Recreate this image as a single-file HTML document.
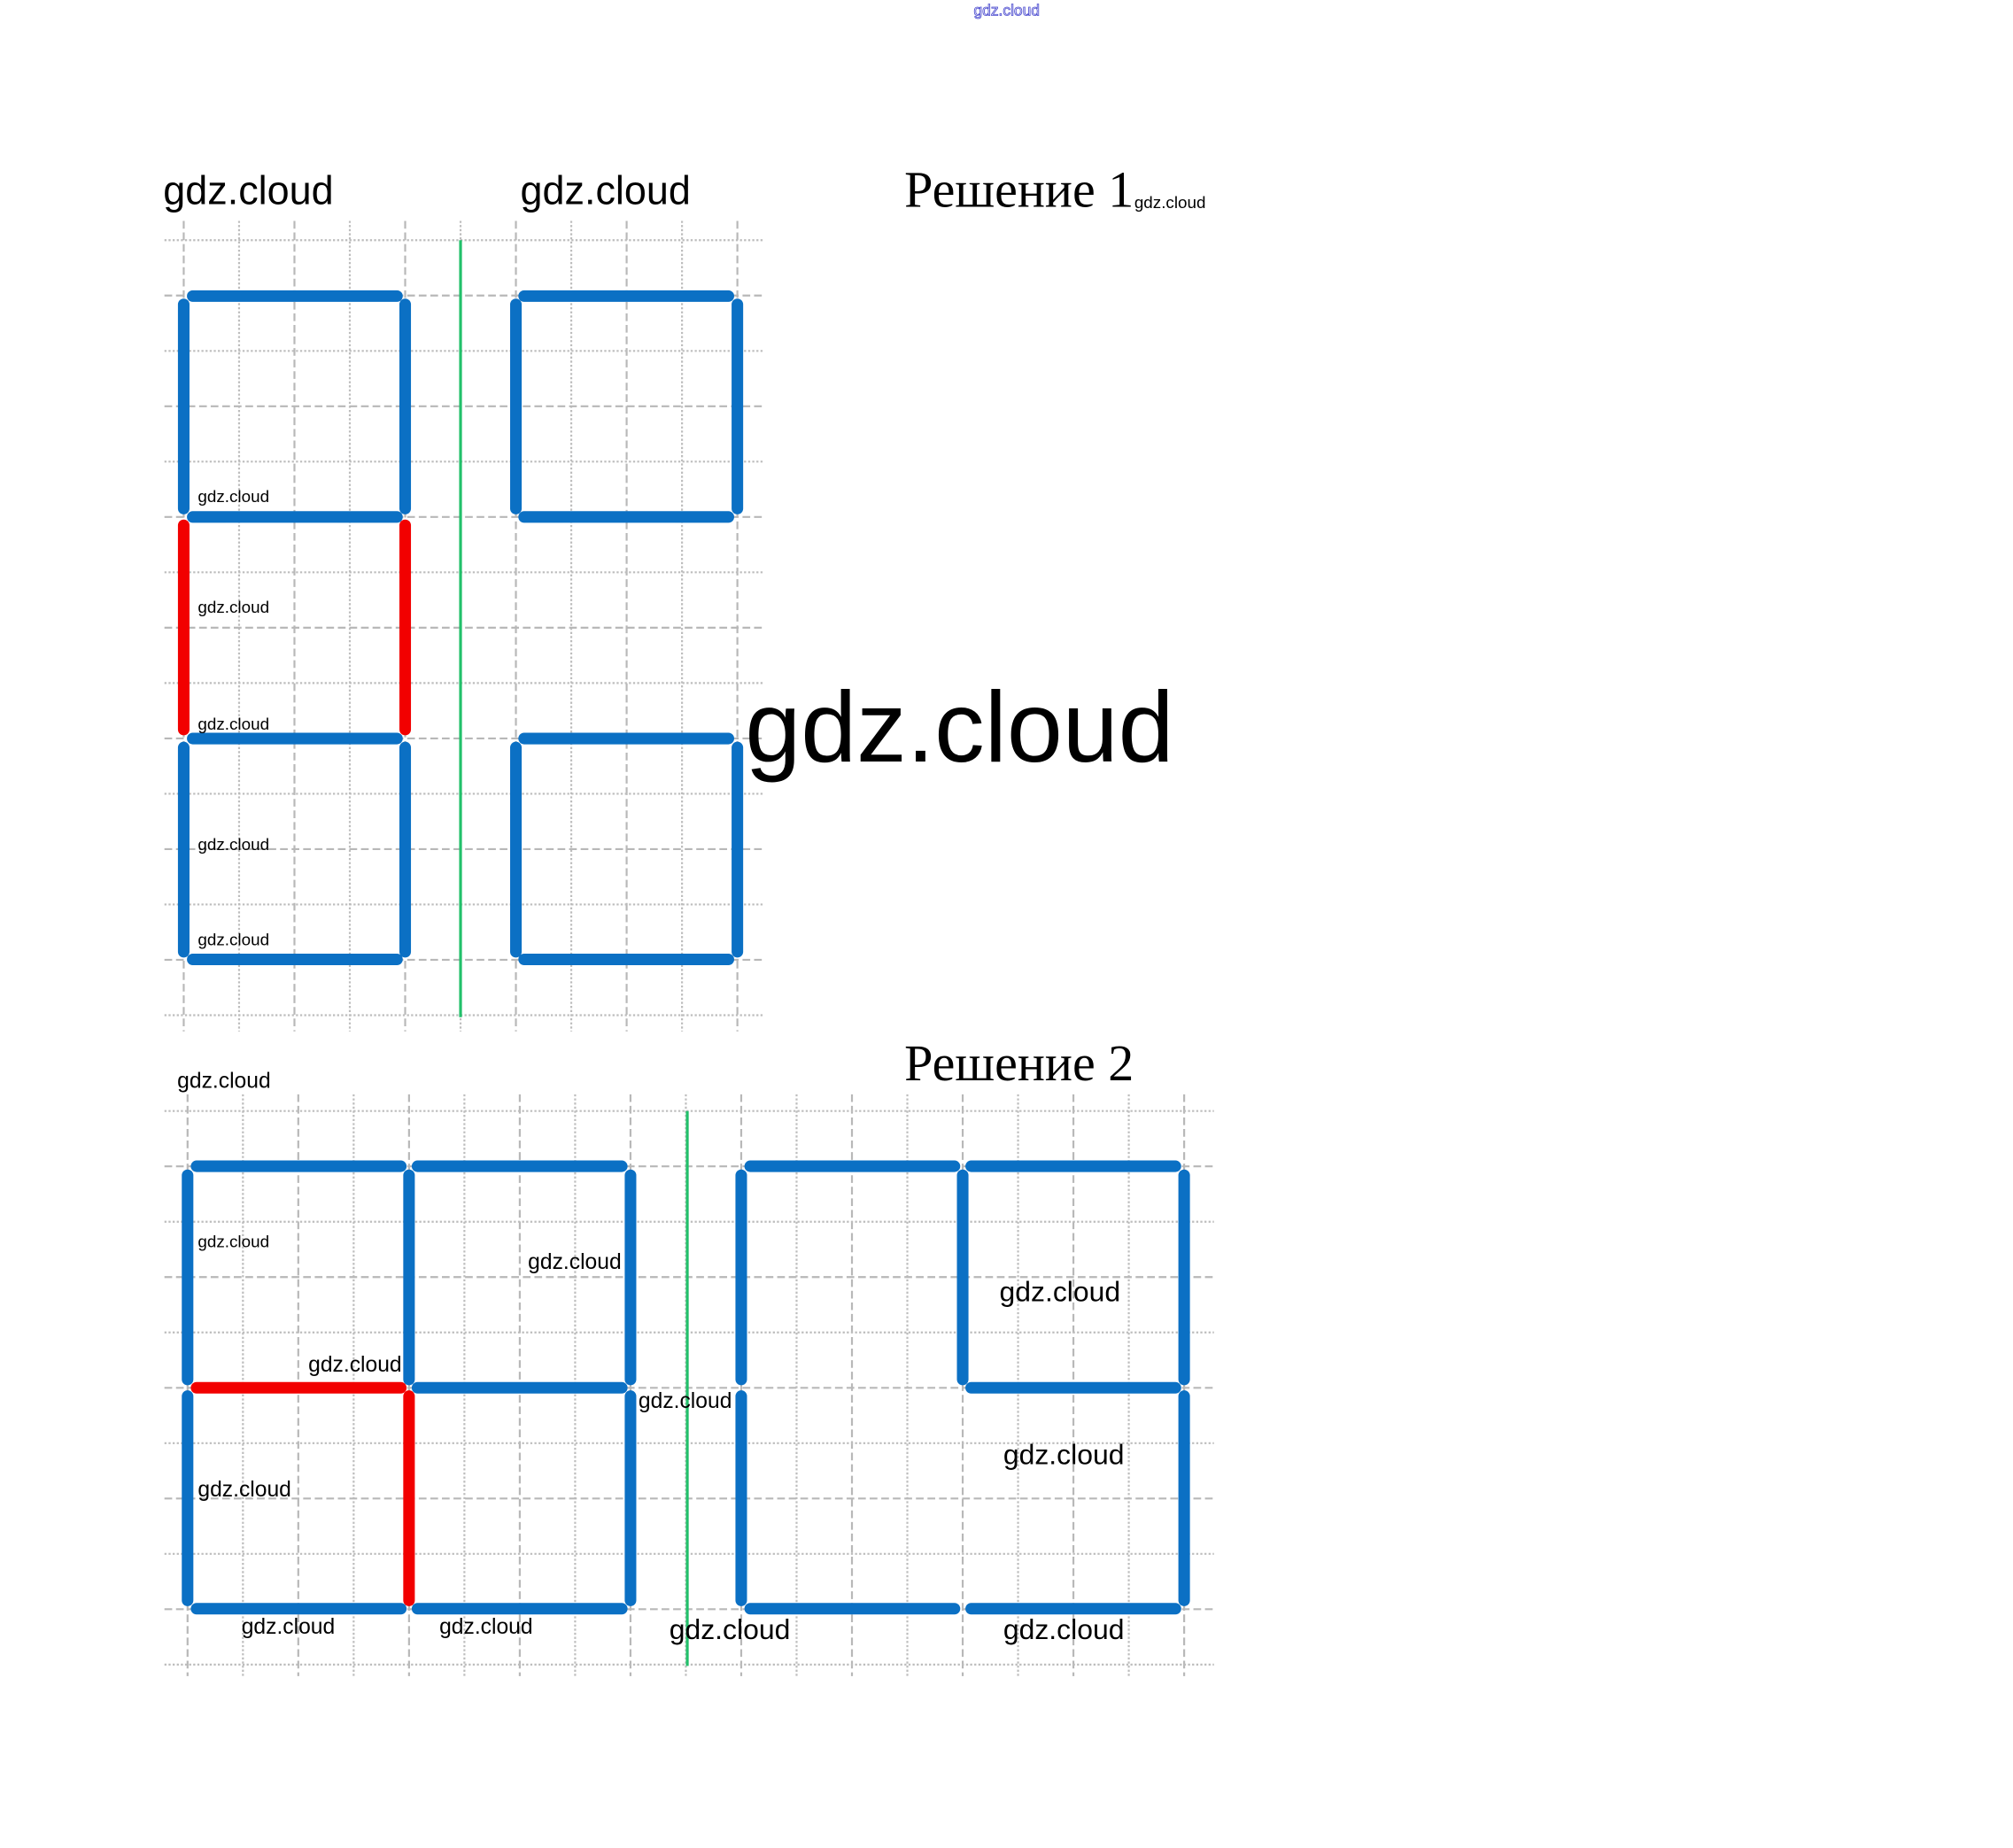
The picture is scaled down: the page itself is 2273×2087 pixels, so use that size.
<!DOCTYPE html>
<html><head><meta charset="utf-8"><style>
html,body{margin:0;padding:0;background:#fff}
svg{display:block}
.d{stroke:#b8b8b8;stroke-width:1.5;stroke-dasharray:6 3;fill:none}
.o{stroke:#bdbdbd;stroke-width:1.5;stroke-dasharray:1.6 1.6;fill:none}
.b{stroke:#0b70c4;stroke-width:9;stroke-linecap:round}
.r{stroke:#f20000;stroke-width:9;stroke-linecap:round}
text{font-family:"Liberation Sans",sans-serif;fill:#000}
</style></head><body>
<svg width="2273" height="2087" viewBox="0 0 1567 1438.8" xmlns="http://www.w3.org/2000/svg">
<g>
<line class="d" x1="143" y1="172" x2="143" y2="803"/>
<line class="o" x1="186.1" y1="172" x2="186.1" y2="803"/>
<line class="d" x1="229.2" y1="172" x2="229.2" y2="803"/>
<line class="o" x1="272.3" y1="172" x2="272.3" y2="803"/>
<line class="d" x1="315.4" y1="172" x2="315.4" y2="803"/>
<line class="o" x1="358.5" y1="172" x2="358.5" y2="803"/>
<line class="d" x1="401.6" y1="172" x2="401.6" y2="803"/>
<line class="o" x1="444.7" y1="172" x2="444.7" y2="803"/>
<line class="d" x1="487.8" y1="172" x2="487.8" y2="803"/>
<line class="o" x1="530.9" y1="172" x2="530.9" y2="803"/>
<line class="d" x1="574" y1="172" x2="574" y2="803"/>
<line class="o" x1="128" y1="187" x2="594" y2="187"/>
<line class="d" x1="128" y1="230.1" x2="594" y2="230.1"/>
<line class="o" x1="128" y1="273.2" x2="594" y2="273.2"/>
<line class="d" x1="128" y1="316.3" x2="594" y2="316.3"/>
<line class="o" x1="128" y1="359.4" x2="594" y2="359.4"/>
<line class="d" x1="128" y1="402.5" x2="594" y2="402.5"/>
<line class="o" x1="128" y1="445.6" x2="594" y2="445.6"/>
<line class="d" x1="128" y1="488.7" x2="594" y2="488.7"/>
<line class="o" x1="128" y1="531.8" x2="594" y2="531.8"/>
<line class="d" x1="128" y1="574.9" x2="594" y2="574.9"/>
<line class="o" x1="128" y1="618" x2="594" y2="618"/>
<line class="d" x1="128" y1="661.1" x2="594" y2="661.1"/>
<line class="o" x1="128" y1="704.2" x2="594" y2="704.2"/>
<line class="d" x1="128" y1="747.3" x2="594" y2="747.3"/>
<line class="o" x1="128" y1="790.4" x2="594" y2="790.4"/>
</g>
<line x1="358.5" y1="187" x2="358.5" y2="792" stroke="#22c06a" stroke-width="2.2"/>
<g>
<line class="b" x1="150" y1="230.5" x2="309" y2="230.5"/>
<line class="b" x1="143" y1="237" x2="143" y2="396"/>
<line class="b" x1="315.4" y1="237" x2="315.4" y2="396"/>
<line class="b" x1="150" y1="402.5" x2="309" y2="402.5"/>
<line class="r" x1="143" y1="409" x2="143" y2="568"/>
<line class="r" x1="315.4" y1="409" x2="315.4" y2="568"/>
<line class="b" x1="150" y1="575" x2="309" y2="575"/>
<line class="b" x1="143" y1="582" x2="143" y2="741"/>
<line class="b" x1="315.4" y1="582" x2="315.4" y2="741"/>
<line class="b" x1="150" y1="747" x2="309" y2="747"/>
<line class="b" x1="408" y1="230.5" x2="567" y2="230.5"/>
<line class="b" x1="401.6" y1="237" x2="401.6" y2="396"/>
<line class="b" x1="574" y1="237" x2="574" y2="396"/>
<line class="b" x1="408" y1="402.5" x2="567" y2="402.5"/>
<line class="b" x1="408" y1="575" x2="567" y2="575"/>
<line class="b" x1="401.6" y1="582" x2="401.6" y2="741"/>
<line class="b" x1="574" y1="582" x2="574" y2="741"/>
<line class="b" x1="408" y1="747" x2="567" y2="747"/>
</g>
<g>
<line class="d" x1="146" y1="852" x2="146" y2="1305"/>
<line class="o" x1="189.1" y1="852" x2="189.1" y2="1305"/>
<line class="d" x1="232.2" y1="852" x2="232.2" y2="1305"/>
<line class="o" x1="275.3" y1="852" x2="275.3" y2="1305"/>
<line class="d" x1="318.4" y1="852" x2="318.4" y2="1305"/>
<line class="o" x1="361.5" y1="852" x2="361.5" y2="1305"/>
<line class="d" x1="404.6" y1="852" x2="404.6" y2="1305"/>
<line class="o" x1="447.7" y1="852" x2="447.7" y2="1305"/>
<line class="d" x1="490.8" y1="852" x2="490.8" y2="1305"/>
<line class="o" x1="533.9" y1="852" x2="533.9" y2="1305"/>
<line class="d" x1="577" y1="852" x2="577" y2="1305"/>
<line class="o" x1="620.1" y1="852" x2="620.1" y2="1305"/>
<line class="d" x1="663.2" y1="852" x2="663.2" y2="1305"/>
<line class="o" x1="706.3" y1="852" x2="706.3" y2="1305"/>
<line class="d" x1="749.4" y1="852" x2="749.4" y2="1305"/>
<line class="o" x1="792.5" y1="852" x2="792.5" y2="1305"/>
<line class="d" x1="835.6" y1="852" x2="835.6" y2="1305"/>
<line class="o" x1="878.7" y1="852" x2="878.7" y2="1305"/>
<line class="d" x1="921.8" y1="852" x2="921.8" y2="1305"/>
<line class="o" x1="128" y1="865" x2="945" y2="865"/>
<line class="d" x1="128" y1="908.1" x2="945" y2="908.1"/>
<line class="o" x1="128" y1="951.2" x2="945" y2="951.2"/>
<line class="d" x1="128" y1="994.3" x2="945" y2="994.3"/>
<line class="o" x1="128" y1="1037.4" x2="945" y2="1037.4"/>
<line class="d" x1="128" y1="1080.5" x2="945" y2="1080.5"/>
<line class="o" x1="128" y1="1123.6" x2="945" y2="1123.6"/>
<line class="d" x1="128" y1="1166.7" x2="945" y2="1166.7"/>
<line class="o" x1="128" y1="1209.8" x2="945" y2="1209.8"/>
<line class="d" x1="128" y1="1252.9" x2="945" y2="1252.9"/>
<line class="o" x1="128" y1="1296" x2="945" y2="1296"/>
</g>
<line x1="535" y1="865" x2="535" y2="1297" stroke="#22c06a" stroke-width="2.2"/>
<g>
<line class="b" x1="153" y1="908" x2="312" y2="908"/>
<line class="b" x1="325" y1="908" x2="484" y2="908"/>
<line class="b" x1="146" y1="915" x2="146" y2="1074"/>
<line class="b" x1="318.4" y1="915" x2="318.4" y2="1074"/>
<line class="b" x1="490.8" y1="915" x2="490.8" y2="1074"/>
<line class="r" x1="153" y1="1080.5" x2="312" y2="1080.5"/>
<line class="b" x1="325" y1="1080.5" x2="484" y2="1080.5"/>
<line class="b" x1="146" y1="1087" x2="146" y2="1246"/>
<line class="r" x1="318.4" y1="1087" x2="318.4" y2="1246"/>
<line class="b" x1="490.8" y1="1087" x2="490.8" y2="1246"/>
<line class="b" x1="153" y1="1252.5" x2="312" y2="1252.5"/>
<line class="b" x1="325" y1="1252.5" x2="484" y2="1252.5"/>
<line class="b" x1="584" y1="908" x2="743" y2="908"/>
<line class="b" x1="756" y1="908" x2="915" y2="908"/>
<line class="b" x1="577" y1="915" x2="577" y2="1074"/>
<line class="b" x1="749.4" y1="915" x2="749.4" y2="1074"/>
<line class="b" x1="921.8" y1="915" x2="921.8" y2="1074"/>
<line class="b" x1="756" y1="1080.5" x2="915" y2="1080.5"/>
<line class="b" x1="577" y1="1087" x2="577" y2="1246"/>
<line class="b" x1="921.8" y1="1087" x2="921.8" y2="1246"/>
<line class="b" x1="584" y1="1252.5" x2="743" y2="1252.5"/>
<line class="b" x1="756" y1="1252.5" x2="915" y2="1252.5"/>
</g>
<text x="758" y="12" font-size="12" style="fill:#fff;stroke:#5050d0;stroke-width:0.6">gdz.cloud</text>
<text x="127" y="159" font-size="31">gdz.cloud</text>
<text x="405" y="159" font-size="31">gdz.cloud</text>
<text x="704" y="161" font-size="40" style="font-family:'Liberation Serif',serif">Решение 1</text>
<text x="883" y="162" font-size="13">gdz.cloud</text>
<text x="580" y="593" font-size="78">gdz.cloud</text>
<text x="154" y="391" font-size="13">gdz.cloud</text>
<text x="154" y="477" font-size="13">gdz.cloud</text>
<text x="154" y="568" font-size="13">gdz.cloud</text>
<text x="154" y="662" font-size="13">gdz.cloud</text>
<text x="154" y="736" font-size="13">gdz.cloud</text>
<text x="704" y="841" font-size="40" style="font-family:'Liberation Serif',serif">Решение 2</text>
<text x="138" y="847" font-size="17">gdz.cloud</text>
<text x="154" y="971" font-size="13">gdz.cloud</text>
<text x="411" y="988" font-size="17">gdz.cloud</text>
<text x="240" y="1068" font-size="17">gdz.cloud</text>
<text x="497" y="1096" font-size="17">gdz.cloud</text>
<text x="154" y="1165" font-size="17">gdz.cloud</text>
<text x="188" y="1272" font-size="17">gdz.cloud</text>
<text x="342" y="1272" font-size="17">gdz.cloud</text>
<text x="521" y="1276" font-size="22">gdz.cloud</text>
<text x="778" y="1013" font-size="22">gdz.cloud</text>
<text x="781" y="1140" font-size="22">gdz.cloud</text>
<text x="781" y="1276" font-size="22">gdz.cloud</text>
</svg>
</body></html>
